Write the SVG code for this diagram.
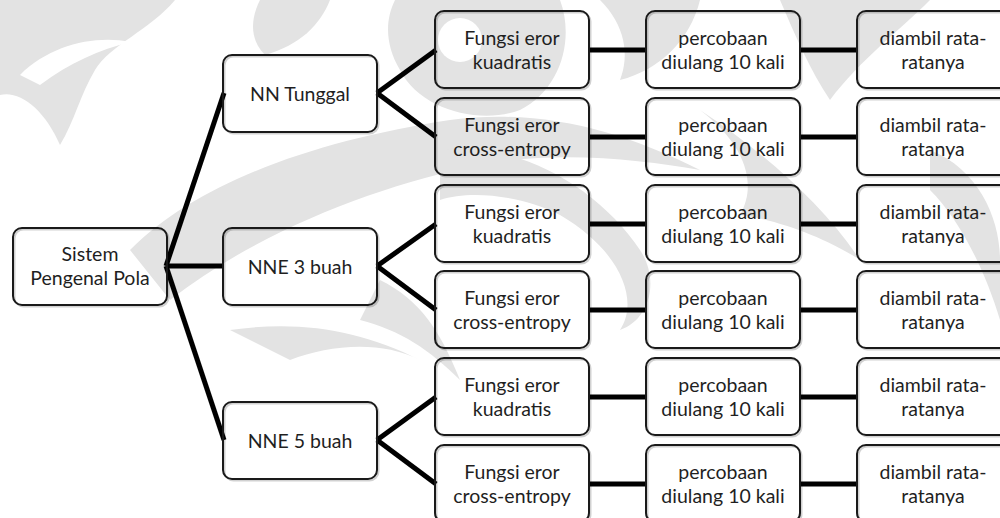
<svg xmlns="http://www.w3.org/2000/svg" width="1000" height="518" viewBox="0 0 1000 518">
  <style>
    .box { fill: none; stroke: #1a1a1a; stroke-width: 2; }
    .shadow { fill: none; stroke: #000; stroke-opacity: 0.18; stroke-width: 2; }
    .lbl { font-family: Lato, "Open Sans", "Liberation Sans", sans-serif; font-size: 19.5px; fill: #1f1f1f; text-anchor: middle; }
    .wm { fill: #e3e3e3; }
    .wmw { fill: #ffffff; }
    .conn { stroke: #000; stroke-width: 5; fill: none; stroke-linecap: butt; }
  </style>
  <defs>
    <g id="shape">
      <rect class="shadow" x="1.5" y="1.5" width="154" height="77" rx="9"/>
      <rect class="box" x="0" y="0" width="154" height="77" rx="9"/>
    </g>
  </defs>
  <rect width="1000" height="518" fill="#ffffff"/>
  <g id="watermark">
    <path class="wm" d="M0,0 L175,0 C150,30 110,45 95,70 C80,95 75,120 60,145 C45,110 20,90 0,95 Z"/>
    <path class="wmw" d="M20,75 C50,45 95,35 130,42 C100,50 70,62 40,85 Z"/>
    <path class="wm" d="M260,0 L330,0 C320,25 300,45 265,55 C250,40 250,20 260,0 Z"/>
    <path class="wm" d="M395,0 L560,0 C575,40 560,90 520,110 C480,125 420,110 400,70 C385,45 385,20 395,0 Z"/>
    <circle class="wmw" cx="460" cy="40" r="22"/>
    <path class="wm" d="M600,0 L700,0 C690,40 660,70 620,80 C630,55 625,25 600,0 Z"/>
    <path class="wm" d="M130,250 C200,180 320,140 450,120 C540,108 620,130 700,170 C640,160 560,150 480,165 C380,185 260,230 170,300 Z"/>
    <path class="wm" d="M440,150 C520,140 600,190 640,250 C660,280 650,320 620,330 C640,300 620,250 560,215 C520,195 470,190 440,200 Z"/>
    <path class="wm" d="M230,330 C300,320 360,330 420,360 C380,340 330,345 290,360 Z"/>
    <path class="wm" d="M700,110 C760,150 820,200 860,260 C830,240 780,220 740,215 C760,180 740,140 700,110 Z"/>
    <path class="wm" d="M380,280 C420,300 440,330 460,380 C430,350 400,330 360,320 Z"/>
    <path class="wm" d="M780,0 L930,0 C900,30 860,60 830,100 C810,70 795,35 780,0 Z"/>
    <path class="wm" d="M930,150 C980,170 1000,220 1000,260 L1000,320 C985,270 960,220 930,190 Z"/>
  </g>
  <g id="connectors">
    <line class="conn" x1="166" y1="266" x2="224" y2="93"/>
    <line class="conn" x1="166" y1="266" x2="224" y2="266"/>
    <line class="conn" x1="166" y1="266" x2="224" y2="440"/>
    <line class="conn" x1="377" y1="93" x2="436" y2="50"/>
    <line class="conn" x1="377" y1="93" x2="436" y2="137"/>
    <line class="conn" x1="377" y1="266" x2="436" y2="224"/>
    <line class="conn" x1="377" y1="266" x2="436" y2="310"/>
    <line class="conn" x1="377" y1="440" x2="436" y2="397"/>
    <line class="conn" x1="377" y1="440" x2="436" y2="484"/>
    <line class="conn" x1="589" y1="50" x2="646" y2="50"/>
    <line class="conn" x1="589" y1="137" x2="646" y2="137"/>
    <line class="conn" x1="589" y1="224" x2="646" y2="224"/>
    <line class="conn" x1="589" y1="310" x2="646" y2="310"/>
    <line class="conn" x1="589" y1="397" x2="646" y2="397"/>
    <line class="conn" x1="589" y1="484" x2="646" y2="484"/>
    <line class="conn" x1="800" y1="50" x2="857" y2="50"/>
    <line class="conn" x1="800" y1="137" x2="857" y2="137"/>
    <line class="conn" x1="800" y1="224" x2="857" y2="224"/>
    <line class="conn" x1="800" y1="310" x2="857" y2="310"/>
    <line class="conn" x1="800" y1="397" x2="857" y2="397"/>
    <line class="conn" x1="800" y1="484" x2="857" y2="484"/>
  </g>
  <g id="n-sistem">
    <use href="#shape" x="13" y="228"/>
    <text class="lbl" x="90" y="261">Sistem</text>
    <text class="lbl" x="90" y="285">Pengenal Pola</text>
  </g>
  <g id="n-nn-tunggal">
    <use href="#shape" x="223" y="55"/>
    <text class="lbl" x="300" y="101">NN Tunggal</text>
  </g>
  <g id="n-nne3">
    <use href="#shape" x="223" y="228"/>
    <text class="lbl" x="300" y="274">NNE 3 buah</text>
  </g>
  <g id="n-nne5">
    <use href="#shape" x="223" y="402"/>
    <text class="lbl" x="300" y="448">NNE 5 buah</text>
  </g>
  <g id="n-f1">
    <use href="#shape" x="435" y="11"/>
    <text class="lbl" x="512" y="45">Fungsi eror</text>
    <text class="lbl" x="512" y="69">kuadratis</text>
  </g>
  <g id="n-f2">
    <use href="#shape" x="435" y="98"/>
    <text class="lbl" x="512" y="132">Fungsi eror</text>
    <text class="lbl" x="512" y="156">cross-entropy</text>
  </g>
  <g id="n-f3">
    <use href="#shape" x="435" y="185"/>
    <text class="lbl" x="512" y="219">Fungsi eror</text>
    <text class="lbl" x="512" y="243">kuadratis</text>
  </g>
  <g id="n-f4">
    <use href="#shape" x="435" y="271"/>
    <text class="lbl" x="512" y="305">Fungsi eror</text>
    <text class="lbl" x="512" y="329">cross-entropy</text>
  </g>
  <g id="n-f5">
    <use href="#shape" x="435" y="358"/>
    <text class="lbl" x="512" y="392">Fungsi eror</text>
    <text class="lbl" x="512" y="416">kuadratis</text>
  </g>
  <g id="n-f6">
    <use href="#shape" x="435" y="445"/>
    <text class="lbl" x="512" y="479">Fungsi eror</text>
    <text class="lbl" x="512" y="503">cross-entropy</text>
  </g>
  <g id="n-p1">
    <use href="#shape" x="646" y="11"/>
    <text class="lbl" x="723" y="45">percobaan</text>
    <text class="lbl" x="723" y="69">diulang 10 kali</text>
  </g>
  <g id="n-p2">
    <use href="#shape" x="646" y="98"/>
    <text class="lbl" x="723" y="132">percobaan</text>
    <text class="lbl" x="723" y="156">diulang 10 kali</text>
  </g>
  <g id="n-p3">
    <use href="#shape" x="646" y="185"/>
    <text class="lbl" x="723" y="219">percobaan</text>
    <text class="lbl" x="723" y="243">diulang 10 kali</text>
  </g>
  <g id="n-p4">
    <use href="#shape" x="646" y="271"/>
    <text class="lbl" x="723" y="305">percobaan</text>
    <text class="lbl" x="723" y="329">diulang 10 kali</text>
  </g>
  <g id="n-p5">
    <use href="#shape" x="646" y="358"/>
    <text class="lbl" x="723" y="392">percobaan</text>
    <text class="lbl" x="723" y="416">diulang 10 kali</text>
  </g>
  <g id="n-p6">
    <use href="#shape" x="646" y="445"/>
    <text class="lbl" x="723" y="479">percobaan</text>
    <text class="lbl" x="723" y="503">diulang 10 kali</text>
  </g>
  <g id="n-d1">
    <use href="#shape" x="857" y="11"/>
    <text class="lbl" x="933" y="45">diambil rata-</text>
    <text class="lbl" x="933" y="69">ratanya</text>
  </g>
  <g id="n-d2">
    <use href="#shape" x="857" y="98"/>
    <text class="lbl" x="933" y="132">diambil rata-</text>
    <text class="lbl" x="933" y="156">ratanya</text>
  </g>
  <g id="n-d3">
    <use href="#shape" x="857" y="185"/>
    <text class="lbl" x="933" y="219">diambil rata-</text>
    <text class="lbl" x="933" y="243">ratanya</text>
  </g>
  <g id="n-d4">
    <use href="#shape" x="857" y="271"/>
    <text class="lbl" x="933" y="305">diambil rata-</text>
    <text class="lbl" x="933" y="329">ratanya</text>
  </g>
  <g id="n-d5">
    <use href="#shape" x="857" y="358"/>
    <text class="lbl" x="933" y="392">diambil rata-</text>
    <text class="lbl" x="933" y="416">ratanya</text>
  </g>
  <g id="n-d6">
    <use href="#shape" x="857" y="445"/>
    <text class="lbl" x="933" y="479">diambil rata-</text>
    <text class="lbl" x="933" y="503">ratanya</text>
  </g>
</svg>
